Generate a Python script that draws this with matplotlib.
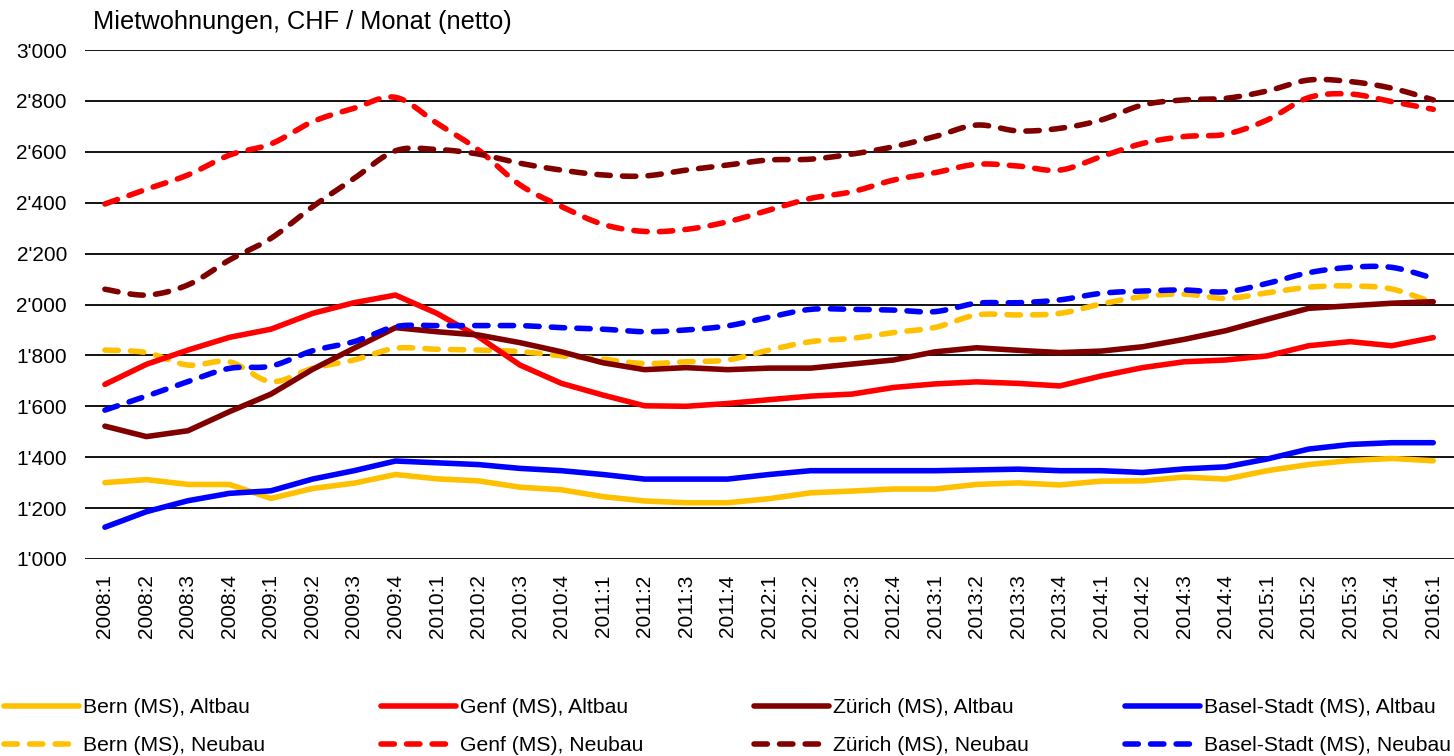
import numpy as np
import matplotlib
matplotlib.use("Agg")
import matplotlib.pyplot as plt
from matplotlib.ticker import FuncFormatter, MultipleLocator

plt.rcParams['font.family'] = ['Liberation Sans', 'DejaVu Sans']

quarters = [f"{y}:{q}" for y in range(2008, 2016) for q in range(1, 5)] + ["2016:1"]

bern_alt = [1300, 1312, 1293, 1293, 1238, 1277, 1298, 1332, 1315, 1307, 1282, 1272,
            1245, 1228, 1221, 1221, 1237, 1260, 1267, 1275, 1275, 1293, 1299, 1291,
            1306, 1307, 1322, 1314, 1347, 1371, 1387, 1395, 1386]
genf_alt = [1686, 1765, 1821, 1871, 1903, 1965, 2007, 2037, 1965, 1873, 1762, 1690,
            1644, 1602, 1600, 1611, 1626, 1640, 1648, 1674, 1688, 1696, 1690, 1680,
            1719, 1752, 1775, 1782, 1798, 1838, 1854, 1838, 1870]
zuerich_alt = [1522, 1481, 1504, 1579, 1648, 1745, 1828, 1909, 1893, 1880, 1850, 1814,
               1771, 1744, 1752, 1744, 1750, 1750, 1766, 1782, 1814, 1830, 1820, 1811,
               1817, 1834, 1863, 1897, 1942, 1985, 1995, 2005, 2011]
basel_alt = [1125, 1186, 1229, 1258, 1268, 1314, 1347, 1385, 1378, 1371, 1356, 1347,
             1332, 1314, 1314, 1314, 1332, 1347, 1347, 1347, 1347, 1350, 1353, 1347,
             1347, 1340, 1354, 1362, 1393, 1432, 1450, 1457, 1457]

bern_neu = [1821, 1811, 1762, 1775, 1697, 1749, 1782, 1828, 1824, 1821, 1815, 1798,
            1785, 1768, 1775, 1782, 1821, 1854, 1867, 1890, 1910, 1959, 1959, 1965,
            2002, 2031, 2041, 2024, 2046, 2068, 2073, 2061, 2007]
genf_neu = [2395, 2453, 2509, 2587, 2631, 2718, 2771, 2814, 2712, 2607, 2470, 2385,
            2315, 2287, 2295, 2325, 2371, 2417, 2443, 2489, 2518, 2551, 2544, 2528,
            2581, 2633, 2660, 2669, 2725, 2813, 2827, 2797, 2767]
zuerich_neu = [2060, 2037, 2077, 2175, 2260, 2384, 2495, 2604, 2609, 2591, 2555, 2528,
               2509, 2505, 2528, 2548, 2568, 2571, 2591, 2620, 2660, 2705, 2682, 2692,
               2725, 2784, 2804, 2810, 2839, 2882, 2876, 2850, 2804]
basel_neu = [1585, 1640, 1697, 1749, 1758, 1818, 1854, 1913, 1917, 1917, 1917, 1909,
             1903, 1893, 1900, 1916, 1950, 1981, 1981, 1978, 1972, 2005, 2007, 2018,
             2044, 2053, 2057, 2050, 2083, 2125, 2146, 2146, 2103]

cities = ["Bern (MS)", "Genf (MS)", "Zürich (MS)", "Basel-Stadt (MS)"]
colors = ["#FFC000", "#FF0000", "#800000", "#0000FF"]
altbau = [bern_alt, genf_alt, zuerich_alt, basel_alt]
neubau = [bern_neu, genf_neu, zuerich_neu, basel_neu]


def smooth(x, y, n=12):
    # Excel-like smoothed line (Catmull-Rom as cubic Bezier)
    x = np.asarray(x, float)
    y = np.asarray(y, float)
    px = np.concatenate([[x[0]], x, [x[-1]]])
    py = np.concatenate([[y[0]], y, [y[-1]]])
    t = np.linspace(0, 1, n, endpoint=False)[:, None]
    xs, ys = [], []
    for i in range(1, len(px) - 2):
        p0 = np.array([px[i], py[i]])
        p3 = np.array([px[i + 1], py[i + 1]])
        c1 = p0 + (p3 - np.array([px[i - 1], py[i - 1]])) / 6
        c2 = p3 - (np.array([px[i + 2], py[i + 2]]) - p0) / 6
        pts = ((1 - t) ** 3) * p0 + 3 * ((1 - t) ** 2) * t * c1 + 3 * (1 - t) * t ** 2 * c2 + t ** 3 * p3
        xs.append(pts[:, 0])
        ys.append(pts[:, 1])
    xs.append([x[-1]])
    ys.append([y[-1]])
    return np.concatenate(xs), np.concatenate(ys)


fig = plt.figure(figsize=(14.54, 7.56), dpi=100)
ax = fig.add_axes([85 / 1454, 1 - 559 / 756, 1 - 85 / 1454, (559 - 50) / 756])

x = np.arange(len(quarters))
lw = 4.0
legend_pairs = []
for city, color, alt, neu in zip(cities, colors, altbau, neubau):
    l1, = ax.plot(x, alt, color=color, lw=lw, solid_capstyle='round',
                  solid_joinstyle='round', label=f"{city}, Altbau", zorder=3)
    sx, sy = smooth(x, neu)
    l2, = ax.plot(sx, sy, color=color, lw=lw, dashes=(2.4, 2.2),
                  dash_capstyle='round', label=f"{city}, Neubau", zorder=3)
    legend_pairs.append((l1, l2))

ax.set_ylim(1000, 3000)
ax.set_xlim(-0.48, 32.5)
ax.yaxis.set_major_locator(MultipleLocator(200))
ax.yaxis.set_major_formatter(FuncFormatter(lambda v, p: f"{v:,.0f}".replace(",", "'")))
ax.set_xticks(x)
ax.set_xticklabels(quarters, rotation=90, va='top', ha='center')
ax.tick_params(axis='both', length=0, labelsize=15, colors='black')
ax.tick_params(axis='x', pad=11)
ax.tick_params(axis='y', pad=13)
ax.grid(axis='y', color='black', lw=1.3, zorder=1)
for s in ax.spines.values():
    s.set_visible(False)

fig.text(93 / 1454, 1 - 22 / 756, "Mietwohnungen, CHF / Monat (netto)",
         fontsize=18.3, va='center', ha='left')

# one legend per city so that the columns have equal width
leg_x = [4, 381, 754, 1125]
for lx, (l1, l2) in zip(leg_x, legend_pairs):
    fig.legend(handles=[l1, l2], loc='upper left',
               bbox_to_anchor=(lx / 1454, 1 - 698 / 756),
               frameon=False, fontsize=15.2, handlelength=3.55, handletextpad=0.2,
               labelspacing=0.9, borderpad=0, borderaxespad=0)

fig.savefig("out.png", dpi=100)
